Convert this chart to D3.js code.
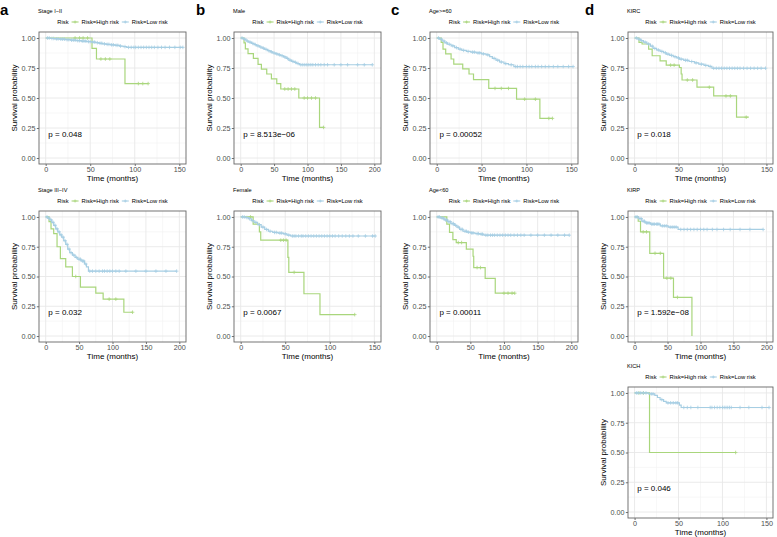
<!DOCTYPE html>
<html><head><meta charset="utf-8">
<script src="https://cdn.jsdelivr.net/npm/d3@7"></script>
<style>body{margin:0;background:#fff}svg{display:block;font-family:"Liberation Sans",Arial,sans-serif}</style>
</head><body><svg id="c" width="777" height="537"></svg>
<script>
// ---------- data (time in months, survival probability) ----------
const yTicks = [0, 0.25, 0.5, 0.75, 1];
const seriesNames = ["Risk=High risk", "Risk=Low risk"];
const seriesColors = ["#a9d67c", "#a6cee3"];

// a: Stage I-II
const a1Low = [[0,1],[5,0.996],[10,0.993],[16,0.99],[22,0.986],[28,0.982],[34,0.978],[40,0.974],[46,0.97],[52,0.966],[56,0.961],[60,0.956],[64,0.951],[68,0.947],[73,0.943],[78,0.939],[83,0.933],[87,0.928],[91,0.922]];
const a1LowEnd = 154;
const a1LowCens = [2,4,7,9,12,14,17,19,21,24,26,29,31,33,36,38,41,43,45,48,50,53,55,58,61,63,66,69,71,74,76,79,81,84,89,93,96,99,101,104,107,110,113,116,119,122,126,130,134,139,145,151,154];
const a1High = [[0,1],[52,0.914],[57,0.825],[89,0.62]];
const a1HighEnd = 115;
const a1HighCens = [33,38,42,47,62,67,72,104,109,115];
// a: Stage III-IV
const a2Low = [[0,1],[3,0.99],[6,0.975],[9,0.955],[12,0.93],[15,0.9],[18,0.875],[21,0.85],[24,0.83],[27,0.8],[30,0.77],[33,0.73],[36,0.7],[40,0.68],[44,0.66],[48,0.645],[53,0.63],[58,0.605],[61,0.58],[64,0.545]];
const a2LowEnd = 196;
const a2LowCens = [2,5,8,11,14,17,20,23,26,29,32,35,38,42,46,50,52,55,57,60,66,70,75,80,85,88,92,96,100,105,110,120,135,150,165,180,196];
const a2High = [[0,1],[5,0.96],[8,0.9],[12,0.86],[17,0.75],[22,0.65],[30,0.58],[40,0.5],[52,0.41],[75,0.36],[86,0.31],[117,0.2]];
const a2HighEnd = 130;
const a2HighCens = [45,95,105,130];
// b: Male
const b1Low = [[0,1],[4,0.99],[8,0.975],[12,0.965],[16,0.955],[20,0.945],[24,0.935],[28,0.925],[32,0.915],[36,0.905],[40,0.895],[44,0.885],[48,0.875],[52,0.868],[56,0.86],[60,0.852],[64,0.842],[68,0.83],[72,0.815],[76,0.805],[80,0.797],[84,0.787],[88,0.777]];
const b1LowEnd = 197;
const b1LowCens = [2,6,10,14,18,22,26,30,34,38,42,46,50,54,58,62,66,70,74,78,82,86,90,93,96,99,102,105,108,112,116,120,125,130,140,150,160,175,185,197];
const b1High = [[0,1],[5,0.96],[7,0.91],[11,0.87],[19,0.83],[26,0.78],[31,0.74],[39,0.7],[46,0.66],[54,0.62],[60,0.575],[87,0.5],[118,0.255]];
const b1HighEnd = 124;
const b1HighCens = [66,71,76,81,95,100,106,112,124];
// b: Female
const b2Low = [[0,1],[5,0.995],[9,0.985],[12,0.97],[15,0.955],[19,0.935],[23,0.915],[27,0.895],[31,0.88],[36,0.87],[42,0.865],[48,0.858],[52,0.848],[56,0.84]];
const b2LowEnd = 151;
const b2LowCens = [2,4,7,10,13,17,21,25,29,33,38,40,44,46,50,54,58,60,62,65,68,70,73,76,79,82,85,88,91,94,97,100,103,106,110,114,118,122,126,132,140,148,151];
const b2High = [[0,1],[14,0.94],[21,0.875],[22.5,0.805],[53,0.66],[54,0.535],[71,0.355],[89,0.18]];
const b2HighEnd = 128;
const b2HighCens = [11,45,48,51,60,128];
// c: Age>=60
const c1Low = [[0,1],[3,0.99],[6,0.975],[9,0.96],[12,0.948],[16,0.935],[20,0.92],[24,0.907],[28,0.897],[33,0.888],[38,0.882],[44,0.876],[50,0.868],[55,0.86],[59,0.845],[62,0.83],[66,0.815],[70,0.8],[75,0.787],[80,0.777],[86,0.762]];
const c1LowEnd = 152;
const c1LowCens = [2,5,8,11,14,18,22,26,30,35,40,42,46,48,52,57,64,68,72,77,83,88,90,93,96,100,103,106,110,113,117,121,125,130,135,141,147,152];
const c1High = [[0,1],[5,0.964],[7,0.908],[10,0.867],[16,0.825],[19,0.783],[29,0.742],[36,0.7],[41,0.653],[58,0.58],[89,0.49],[115,0.33]];
const c1HighEnd = 129;
const c1HighCens = [65,72,80,98,110,125,129];
// c: Age<60
const c2Low = [[0,1],[6,0.99],[11,0.975],[16,0.96],[21,0.944],[26,0.93],[30,0.915],[34,0.896],[39,0.88],[45,0.872],[50,0.866],[57,0.86],[64,0.855],[70,0.847]];
const c2LowEnd = 197;
const c2LowCens = [2,4,8,10,13,15,18,20,23,25,28,32,36,38,42,44,47,52,54,60,62,66,68,73,76,80,83,86,90,94,98,102,106,110,115,120,125,130,140,150,160,170,180,190,197];
const c2High = [[0,1],[15,0.94],[19,0.87],[24,0.81],[29,0.785],[44,0.73],[54,0.67],[55,0.575],[72,0.485],[87,0.36]];
const c2HighEnd = 116;
const c2HighCens = [32,37,60,65,100,106,112,116];
// d: KIRC
const d1Low = [[0,1],[4,0.99],[7,0.978],[10,0.965],[14,0.95],[18,0.932],[21,0.913],[25,0.9],[29,0.888],[33,0.877],[36,0.866],[40,0.855],[44,0.844],[48,0.834],[51,0.824],[56,0.814],[62,0.804],[68,0.793],[73,0.782],[79,0.772],[84,0.763],[88,0.748]];
const d1LowEnd = 149;
const d1LowCens = [2,5,8,12,16,20,23,27,31,35,38,42,46,50,53,58,60,65,70,76,81,86,90,93,96,99,102,105,108,111,114,117,120,124,128,132,136,140,144,149];
const d1High = [[0,1],[5,0.964],[8.5,0.95],[16,0.908],[20,0.852],[29,0.81],[36,0.774],[51,0.754],[53,0.7],[54,0.65],[71,0.59],[90,0.517],[116,0.34]];
const d1HighEnd = 130;
const d1HighCens = [41,45,60,66,85,104,109,127];
// d: KIRP
const d2Low = [[0,1],[6,0.986],[11,0.964],[16,0.95],[24,0.94],[39,0.925],[51,0.915],[66,0.895]];
const d2LowEnd = 195;
const d2LowCens = [2,4,8,10,13,15,18,20,22,26,28,30,33,35,37,42,45,48,54,57,60,63,70,75,80,85,90,95,100,105,110,118,125,135,145,160,175,195];
const d2High = [[0,1],[5.5,0.964],[9,0.875],[23,0.695],[44,0.486],[59,0.325],[87,0]];
const d2HighEnd = 87;
const d2HighCens = [13,18,31,39,49,55,65];
// d: KICH
const d3Low = [[0,1],[16,0.992],[23,0.98],[26,0.962],[29,0.944],[33,0.93],[36,0.917],[51,0.897],[53,0.878]];
const d3LowEnd = 153;
const d3LowCens = [2,4,7,10,13,19,21,31,38,41,44,47,49,56,60,64,72,86,88,91,94,97,100,102,104,106,108,110,120,130,145,153];
const d3High = [[0,1],[17,0.5]];
const d3HighEnd = 115;
const d3HighCens = [5,10,115];

const panelTitles = ["Stage I\u2212II","Stage III\u2212IV","Male","Female","Age>=60","Age<60","KIRC","KIRP","KICH"];
const panelPvals = ["p = 0.048","p = 0.032","p = 8.513e\u221206","p = 0.0067","p = 0.00052","p = 0.00011","p = 0.018","p = 1.592e\u221208","p = 0.046"];
const panelXmax = [150,200,200,150,150,200,150,200,150];
const panelLetters = ["a","b","c","d"];

// ---------- layout ----------
const cols = [{l:39,r:186},{l:234,r:381},{l:430,r:578},{l:628,r:773}];
const rows = [{t:32,b:164},{t:211,b:342},{t:387,b:518}];
const letterX = [0,196,391,585];

const panels = [
  {c:0,r:0,i:0,low:a1Low,lowEnd:a1LowEnd,lowC:a1LowCens,high:a1High,highEnd:a1HighEnd,highC:a1HighCens},
  {c:0,r:1,i:1,low:a2Low,lowEnd:a2LowEnd,lowC:a2LowCens,high:a2High,highEnd:a2HighEnd,highC:a2HighCens},
  {c:1,r:0,i:2,low:b1Low,lowEnd:b1LowEnd,lowC:b1LowCens,high:b1High,highEnd:b1HighEnd,highC:b1HighCens},
  {c:1,r:1,i:3,low:b2Low,lowEnd:b2LowEnd,lowC:b2LowCens,high:b2High,highEnd:b2HighEnd,highC:b2HighCens},
  {c:2,r:0,i:4,low:c1Low,lowEnd:c1LowEnd,lowC:c1LowCens,high:c1High,highEnd:c1HighEnd,highC:c1HighCens},
  {c:2,r:1,i:5,low:c2Low,lowEnd:c2LowEnd,lowC:c2LowCens,high:c2High,highEnd:c2HighEnd,highC:c2HighCens},
  {c:3,r:0,i:6,low:d1Low,lowEnd:d1LowEnd,lowC:d1LowCens,high:d1High,highEnd:d1HighEnd,highC:d1HighCens},
  {c:3,r:1,i:7,low:d2Low,lowEnd:d2LowEnd,lowC:d2LowCens,high:d2High,highEnd:d2HighEnd,highC:d2HighCens},
  {c:3,r:2,i:8,low:d3Low,lowEnd:d3LowEnd,lowC:d3LowCens,high:d3High,highEnd:d3HighEnd,highC:d3HighCens}
];

const svg = d3.select("#c");

panelLetters.forEach((L,k)=>{
  svg.append("text").attr("x",letterX[k]).attr("y",15).attr("font-size",15).attr("font-weight","bold").text(L);
});

function survAt(steps,t){let s=1;for(const p of steps){if(p[0]<=t)s=p[1];}return s;}

panels.forEach(p=>{
  const C = cols[p.c], R = rows[p.r];
  const xmax = panelXmax[p.i];
  const x = d3.scaleLinear().domain([-0.05*xmax,1.05*xmax]).range([C.l,C.r]);
  const y = d3.scaleLinear().domain([-0.05,1.05]).range([R.b,R.t]);
  const g = svg.append("g");
  const xt = d3.range(0,xmax+1,50);
  const xm = d3.range(25,xmax*1.05,50);
  const ym = [0.125,0.375,0.625,0.875];
  // grid
  g.selectAll(".xm").data(xm).join("line").attr("x1",d=>x(d)).attr("x2",d=>x(d)).attr("y1",R.t).attr("y2",R.b).attr("stroke","#f2f2f2").attr("stroke-width",0.6);
  g.selectAll(".ym").data(ym).join("line").attr("y1",d=>y(d)).attr("y2",d=>y(d)).attr("x1",C.l).attr("x2",C.r).attr("stroke","#f2f2f2").attr("stroke-width",0.6);
  g.selectAll(".xg").data(xt).join("line").attr("x1",d=>x(d)).attr("x2",d=>x(d)).attr("y1",R.t).attr("y2",R.b).attr("stroke","#e8e8e8").attr("stroke-width",0.9);
  g.selectAll(".yg").data(yTicks).join("line").attr("y1",d=>y(d)).attr("y2",d=>y(d)).attr("x1",C.l).attr("x2",C.r).attr("stroke","#e8e8e8").attr("stroke-width",0.9);
  // axes
  const ax = g.append("g").attr("transform",`translate(0,${R.b})`).call(d3.axisBottom(x).tickValues(xt).tickSize(2).tickPadding(0.8));
  const ay = g.append("g").attr("transform",`translate(${C.l},0)`).call(d3.axisLeft(y).tickValues(yTicks).tickFormat(d3.format(".2f")).tickSize(2.2).tickPadding(1.2));
  [ax,ay].forEach(a=>{a.select(".domain").remove();a.selectAll("line").attr("stroke","#333").attr("stroke-width",0.7);
    a.selectAll("text").attr("font-size",7.2).attr("fill","#4d4d4d").attr("font-family","Liberation Sans, Arial");});
  // curves
  const line = d3.line().x(d=>x(d[0])).y(d=>y(d[1])).curve(d3.curveStepAfter);
  const series = [
    {steps:p.high,end:p.highEnd,cens:p.highC,col:seriesColors[0]},
    {steps:p.low,end:p.lowEnd,cens:p.lowC,col:seriesColors[1]}
  ];
  series.forEach(s=>{
    const pts = s.steps.concat([[s.end,s.steps[s.steps.length-1][1]]]);
    g.append("path").attr("d",line(pts)).attr("fill","none").attr("stroke",s.col).attr("stroke-width",1.2);
    g.selectAll(null).data(s.cens).join("path")
      .attr("d",d=>{const cx=x(d),cy=y(survAt(s.steps,d));return `M${cx-1.8},${cy}H${cx+1.8}M${cx},${cy-1.8}V${cy+1.8}`;})
      .attr("stroke",s.col).attr("stroke-width",0.8);
  });
  // border
  g.append("rect").attr("x",C.l).attr("y",R.t).attr("width",C.r-C.l).attr("height",R.b-R.t).attr("fill","none").attr("stroke","#666").attr("stroke-width",0.9);
  // p value
  g.append("text").attr("x",x(xmax*0.02)).attr("y",y(0.2)+3).attr("font-size",8).text(panelPvals[p.i]);
  // axis titles
  g.append("text").attr("x",(C.l+C.r)/2).attr("y",R.b+16.5).attr("text-anchor","middle").attr("font-size",8).text("Time (months)");
  g.append("text").attr("transform",`translate(${C.l-22},${(R.t+R.b)/2}) rotate(-90)`).attr("text-anchor","middle").attr("font-size",8).text("Survival probability");
  // title
  g.append("text").attr("x",C.l-1).attr("y",R.t-19).attr("font-size",5.6).text(panelTitles[p.i]);
  // legend
  const lg = g.append("g");
  const ly = R.t-10;
  let cx = 0;
  const t0 = lg.append("text").attr("x",cx).attr("y",ly+2).attr("font-size",5.8).text("Risk");
  cx += t0.node().getComputedTextLength()+3;
  seriesNames.forEach((nm,k)=>{
    lg.append("line").attr("x1",cx).attr("x2",cx+7).attr("y1",ly).attr("y2",ly).attr("stroke",seriesColors[k]).attr("stroke-width",1.1);
    lg.append("path").attr("d",`M${cx+2},${ly}H${cx+5}M${cx+3.5},${ly-1.5}V${ly+1.5}`).attr("stroke",seriesColors[k]).attr("stroke-width",0.8);
    cx += 10;
    const t = lg.append("text").attr("x",cx).attr("y",ly+2).attr("font-size",5.8).text(nm);
    cx += t.node().getComputedTextLength()+3;
  });
  const w = cx-3;
  lg.attr("transform",`translate(${(C.l+C.r)/2 - w/2},0)`);
});
</script></body></html>
